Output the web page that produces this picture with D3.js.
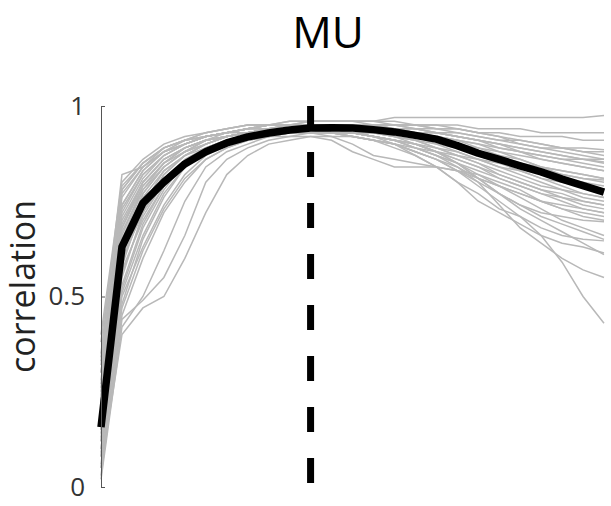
<!DOCTYPE html>
<html>
<head>
<meta charset="utf-8">
<script src="https://cdn.jsdelivr.net/npm/d3@7"></script>
<style>
    body { margin: 0; background: #fff; }
    svg { display: block; font-family: "Open Sans", "Noto Sans", sans-serif; }
    .axis path, .axis line { stroke: #555; }
    .axis text { fill: #333; font-size: 26px; font-family: "Open Sans", "Noto Sans", sans-serif; }
    .unit { fill: none; stroke: #b8b8b8; stroke-width: 1.5; }
    .mean { fill: none; stroke: #000; stroke-width: 7.5; stroke-linejoin: round; }
    .peak { stroke: #000; stroke-width: 7; stroke-dasharray: 25 26; stroke-dashoffset: 5; }
</style>
</head>
<body>
<svg id="chart"></svg>
<script>
// chart values (x = step index 0..24)
const title = "MU";
const yLabel = "correlation";
const yTicks = [0, 0.5, 1];
const peakStep = 10;

const meanCurve = [0.157, 0.63, 0.745, 0.80, 0.848, 0.88, 0.903, 0.919, 0.929, 0.937, 0.942, 0.943, 0.942,
    0.938, 0.932, 0.923, 0.913, 0.896, 0.876, 0.86, 0.843, 0.827, 0.808, 0.791, 0.774];

// one grey line per unit
const unitCurves = [
    [0.30,0.78,0.85,0.89,0.91,0.93,0.94,0.95,0.95,0.96,0.96,0.96,0.96,0.96,0.97,0.97,0.97,0.97,0.97,0.97,0.97,0.97,0.97,0.97,0.975],
    [0.22,0.70,0.80,0.86,0.89,0.91,0.93,0.94,0.95,0.95,0.96,0.96,0.96,0.96,0.95,0.95,0.95,0.95,0.94,0.94,0.94,0.93,0.93,0.93,0.93],
    [0.35,0.82,0.84,0.88,0.91,0.92,0.93,0.94,0.95,0.95,0.95,0.95,0.95,0.95,0.95,0.95,0.94,0.94,0.93,0.93,0.92,0.92,0.92,0.91,0.91],
    [0.18,0.62,0.77,0.84,0.88,0.91,0.92,0.93,0.94,0.95,0.95,0.95,0.95,0.95,0.95,0.94,0.94,0.93,0.92,0.91,0.91,0.90,0.89,0.89,0.885],
    [0.12,0.55,0.72,0.82,0.87,0.90,0.92,0.93,0.94,0.94,0.95,0.95,0.95,0.95,0.94,0.94,0.93,0.93,0.92,0.91,0.90,0.89,0.89,0.88,0.88],
    [0.28,0.74,0.83,0.88,0.90,0.92,0.93,0.94,0.95,0.95,0.95,0.95,0.95,0.94,0.94,0.93,0.93,0.92,0.91,0.90,0.89,0.88,0.87,0.86,0.86],
    [0.08,0.48,0.65,0.76,0.84,0.88,0.90,0.92,0.93,0.94,0.94,0.95,0.95,0.94,0.94,0.93,0.92,0.91,0.90,0.89,0.88,0.87,0.86,0.86,0.85],
    [0.40,0.80,0.86,0.90,0.92,0.93,0.94,0.95,0.95,0.95,0.95,0.95,0.94,0.94,0.93,0.92,0.92,0.91,0.90,0.88,0.87,0.86,0.85,0.84,0.83],
    [0.15,0.58,0.74,0.83,0.87,0.90,0.92,0.93,0.94,0.94,0.95,0.95,0.94,0.94,0.93,0.92,0.91,0.90,0.88,0.87,0.86,0.84,0.83,0.82,0.81],
    [0.05,0.45,0.60,0.72,0.80,0.86,0.89,0.91,0.92,0.93,0.94,0.94,0.94,0.94,0.93,0.92,0.91,0.89,0.88,0.86,0.85,0.83,0.82,0.81,0.806],
    [0.25,0.72,0.82,0.87,0.90,0.92,0.93,0.94,0.94,0.95,0.95,0.94,0.94,0.93,0.92,0.91,0.90,0.89,0.87,0.85,0.84,0.82,0.81,0.80,0.79],
    [0.20,0.66,0.79,0.85,0.89,0.91,0.92,0.93,0.94,0.94,0.94,0.94,0.93,0.93,0.92,0.91,0.89,0.87,0.85,0.83,0.81,0.79,0.78,0.76,0.75],
    [0.02,0.42,0.50,0.62,0.75,0.84,0.88,0.90,0.92,0.93,0.93,0.94,0.93,0.93,0.92,0.90,0.88,0.86,0.84,0.82,0.80,0.78,0.77,0.75,0.74],
    [0.32,0.76,0.84,0.88,0.90,0.92,0.93,0.93,0.94,0.94,0.94,0.93,0.92,0.91,0.90,0.89,0.88,0.86,0.84,0.81,0.79,0.77,0.75,0.73,0.72],
    [0.10,0.52,0.68,0.78,0.85,0.88,0.90,0.91,0.92,0.93,0.93,0.93,0.92,0.91,0.90,0.88,0.86,0.84,0.81,0.79,0.77,0.75,0.73,0.72,0.71],
    [0.15,0.60,0.72,0.80,0.85,0.88,0.90,0.91,0.92,0.92,0.92,0.91,0.88,0.86,0.84,0.84,0.84,0.83,0.82,0.80,0.78,0.75,0.73,0.71,0.70],
    [0.22,0.68,0.80,0.86,0.89,0.91,0.92,0.93,0.94,0.94,0.94,0.93,0.93,0.92,0.91,0.90,0.88,0.85,0.82,0.79,0.76,0.73,0.70,0.68,0.66],
    [0.05,0.40,0.47,0.50,0.60,0.72,0.82,0.87,0.90,0.91,0.92,0.92,0.92,0.91,0.90,0.88,0.86,0.83,0.80,0.77,0.74,0.71,0.69,0.67,0.65],
    [0.30,0.74,0.83,0.88,0.90,0.92,0.93,0.94,0.94,0.94,0.94,0.93,0.93,0.92,0.91,0.89,0.87,0.85,0.81,0.77,0.73,0.70,0.67,0.64,0.61],
    [0.18,0.64,0.77,0.84,0.88,0.90,0.92,0.93,0.93,0.94,0.94,0.94,0.93,0.92,0.91,0.89,0.87,0.84,0.80,0.74,0.68,0.64,0.60,0.57,0.55],
    [0.12,0.56,0.71,0.80,0.86,0.89,0.91,0.92,0.93,0.93,0.93,0.93,0.92,0.91,0.89,0.87,0.84,0.80,0.77,0.73,0.71,0.66,0.59,0.50,0.43],
    [0.38,0.79,0.85,0.89,0.91,0.93,0.94,0.95,0.95,0.96,0.96,0.96,0.96,0.95,0.95,0.94,0.93,0.92,0.91,0.90,0.89,0.88,0.87,0.86,0.853],
    [0.26,0.71,0.81,0.87,0.90,0.92,0.93,0.94,0.95,0.95,0.95,0.95,0.95,0.95,0.94,0.94,0.93,0.92,0.91,0.89,0.88,0.86,0.85,0.84,0.83],
    [0.08,0.50,0.63,0.74,0.82,0.87,0.90,0.92,0.93,0.93,0.94,0.93,0.93,0.92,0.91,0.90,0.88,0.85,0.81,0.77,0.74,0.72,0.71,0.70,0.696],
    [0.14,0.57,0.70,0.79,0.85,0.89,0.91,0.92,0.93,0.93,0.93,0.93,0.92,0.91,0.90,0.88,0.86,0.83,0.79,0.75,0.71,0.68,0.66,0.65,0.646],
    [0.24,0.69,0.80,0.86,0.89,0.91,0.92,0.93,0.93,0.94,0.94,0.93,0.93,0.92,0.90,0.87,0.84,0.80,0.75,0.72,0.69,0.66,0.64,0.63,0.614],
    [0.34,0.77,0.84,0.89,0.91,0.92,0.93,0.94,0.95,0.95,0.96,0.96,0.96,0.96,0.96,0.95,0.95,0.94,0.93,0.92,0.90,0.89,0.88,0.87,0.86],
    [0.10,0.53,0.69,0.79,0.85,0.89,0.91,0.92,0.93,0.94,0.94,0.94,0.94,0.93,0.93,0.92,0.91,0.90,0.88,0.86,0.85,0.84,0.83,0.82,0.81],
    [0.03,0.44,0.49,0.55,0.66,0.80,0.86,0.89,0.91,0.92,0.93,0.93,0.93,0.92,0.91,0.89,0.87,0.85,0.83,0.81,0.79,0.77,0.76,0.75,0.74],
    [0.20,0.67,0.78,0.84,0.88,0.90,0.92,0.93,0.93,0.93,0.93,0.92,0.90,0.87,0.86,0.85,0.84,0.83,0.81,0.79,0.77,0.75,0.74,0.73,0.72],
    [0.16,0.63,0.76,0.83,0.87,0.90,0.92,0.93,0.94,0.94,0.94,0.94,0.94,0.94,0.94,0.93,0.93,0.92,0.91,0.90,0.88,0.87,0.86,0.85,0.84],
    [0.27,0.73,0.82,0.87,0.90,0.92,0.93,0.94,0.95,0.95,0.95,0.95,0.95,0.95,0.94,0.93,0.92,0.91,0.89,0.87,0.85,0.83,0.81,0.79,0.78],
    [0.06,0.47,0.62,0.73,0.81,0.86,0.89,0.91,0.92,0.93,0.93,0.93,0.93,0.92,0.91,0.90,0.89,0.88,0.86,0.85,0.83,0.81,0.79,0.77,0.76],
    [0.21,0.68,0.79,0.85,0.89,0.91,0.92,0.93,0.94,0.95,0.95,0.95,0.95,0.95,0.95,0.95,0.94,0.94,0.93,0.92,0.91,0.90,0.89,0.88,0.87],
    [0.13,0.59,0.73,0.82,0.87,0.89,0.91,0.92,0.93,0.94,0.94,0.94,0.93,0.93,0.92,0.91,0.89,0.87,0.85,0.82,0.80,0.78,0.76,0.74,0.73],
    [0.33,0.78,0.85,0.89,0.91,0.92,0.93,0.94,0.94,0.95,0.95,0.95,0.94,0.94,0.93,0.92,0.91,0.90,0.89,0.88,0.86,0.84,0.82,0.81,0.80],
    [0.09,0.51,0.66,0.77,0.84,0.88,0.90,0.91,0.92,0.93,0.93,0.93,0.93,0.92,0.91,0.90,0.88,0.87,0.86,0.84,0.83,0.81,0.80,0.79,0.78],
    [0.19,0.65,0.78,0.85,0.88,0.91,0.92,0.93,0.94,0.94,0.95,0.95,0.94,0.94,0.93,0.92,0.90,0.88,0.86,0.84,0.82,0.80,0.78,0.77,0.76]
];

const width = 611, height = 506;
const margin = {top: 106, right: 7, bottom: 19, left: 101};
const widthM = width - margin.left - margin.right;
const heightM = height - margin.top - margin.bottom;

const svg = d3.select('#chart')
    .attr('width', width)
    .attr('height', height);

const chart = svg.append('g')
    .attr('transform', `translate(${margin.left},${margin.top})`);

const xScale = d3.scaleLinear()
    .domain([0, meanCurve.length - 1])
    .range([0, widthM]);

const yScale = d3.scaleLinear()
    .domain([0, 1])
    .range([heightM, 0]);

const line = d3.line()
    .x((d, i) => xScale(i))
    .y(d => yScale(d));

// grey lines first so the mean sits on top
chart.selectAll('.unit')
    .data(unitCurves)
    .enter()
    .append('path')
    .attr('class', 'unit')
    .attr('d', line);

chart.append('path')
    .datum(meanCurve)
    .attr('class', 'mean')
    .attr('d', line);

// dashed marker at the peak step
chart.append('line')
    .attr('class', 'peak')
    .attr('x1', xScale(peakStep))
    .attr('x2', xScale(peakStep))
    .attr('y1', yScale(1))
    .attr('y2', yScale(0));

// ticks point inward, like matlab
const yAxis = d3.axisLeft(yScale)
    .tickValues(yTicks)
    .tickFormat(d3.format('~g'))
    .tickSizeInner(-4)
    .tickSizeOuter(-4)
    .tickPadding(16);

chart.append('g')
    .attr('class', 'axis y-axis')
    .call(yAxis);

const labelY = margin.top + heightM / 2 - 10;
svg.append('text')
    .attr('x', 35)
    .attr('y', labelY)
    .attr('transform', `rotate(-90, 35, ${labelY})`)
    .attr('text-anchor', 'middle')
    .attr('font-size', 34)
    .attr('fill', '#222')
    .text(yLabel);

svg.append('text')
    .attr('x', 328)
    .attr('y', 48)
    .attr('text-anchor', 'middle')
    .attr('font-size', 44)
    .attr('fill', '#000')
    .text(title);
</script>
</body>
</html>
